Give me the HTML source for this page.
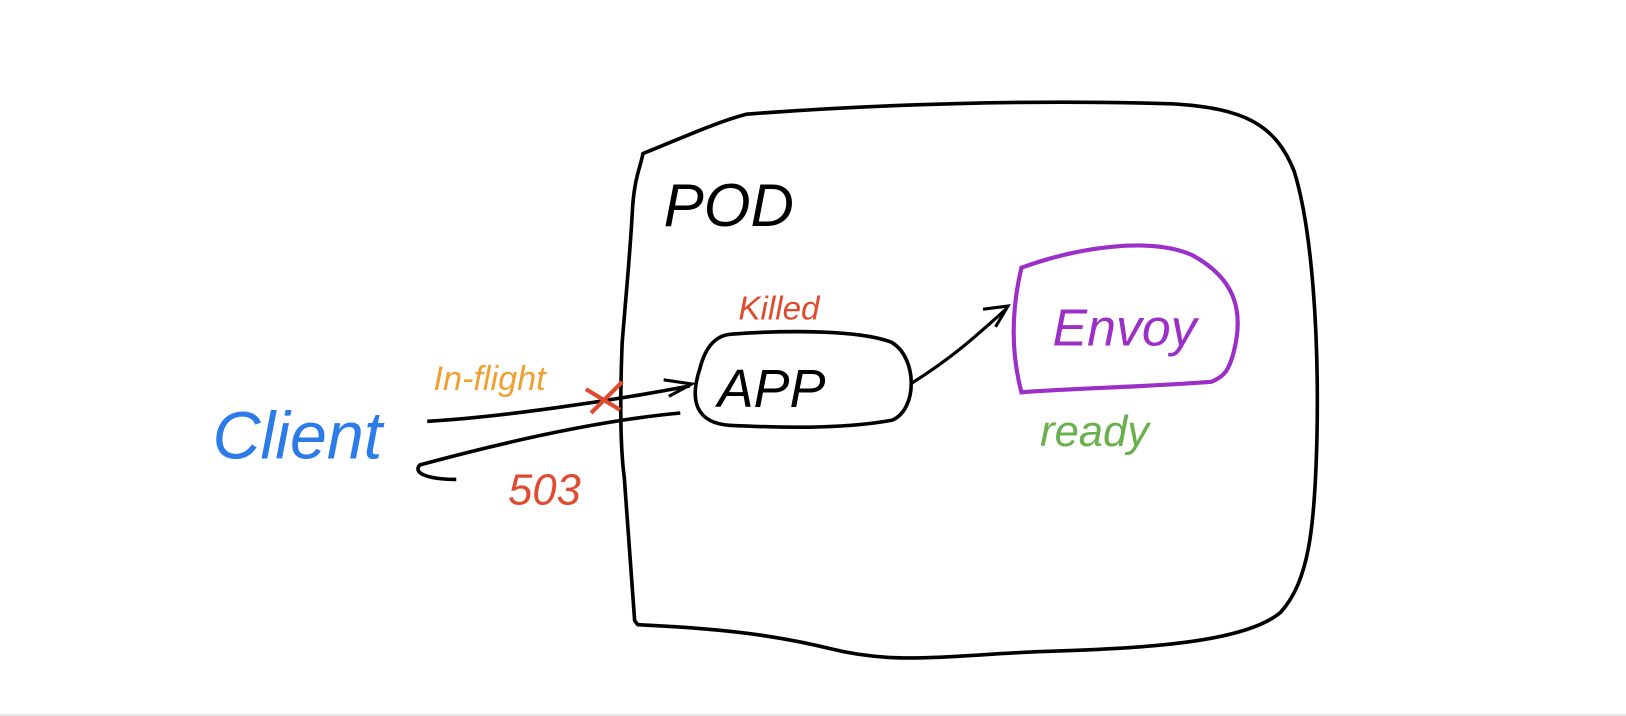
<!DOCTYPE html>
<html><head><meta charset="utf-8"><style>
html,body{margin:0;padding:0;background:#fff;width:1626px;height:716px;overflow:hidden}
svg{display:block}
text{font-family:"Liberation Sans",sans-serif;font-style:italic}
</style></head><body>
<svg width="1626" height="716" viewBox="0 0 1568 690" preserveAspectRatio="none" xmlns="http://www.w3.org/2000/svg">
<rect x="0" y="688" width="1568" height="2" fill="#e6e6e6"/>
<!-- POD box -->
<path d="M620 148 C660 132 690 118 720 110 C850 100 1000 96 1130 100 C1200 104 1230 120 1248 165 C1265 220 1272 320 1270 420 C1268 510 1262 560 1235 590 C1200 620 1100 625 1000 628 C900 633 860 640 800 625 C740 610 680 605 615 602 L612 598 C608 540 605 500 602 460 C598 430 598 380 600 330 C604 280 608 240 610 200 C612 170 618 160 620 148 Z" fill="none" stroke="#000" stroke-width="3.5" stroke-linejoin="round"/>
<text x="640" y="218" font-size="58" fill="#000">POD</text>
<!-- APP -->
<path d="M705 322 C760 318 830 318 860 330 C885 345 885 395 860 405 C810 414 750 412 705 410 C670 408 665 385 675 355 C680 335 690 323 705 322 Z" fill="none" stroke="#000" stroke-width="3.5"/>
<text x="692" y="392" font-size="52" fill="#000">APP</text>
<text x="712" y="308" font-size="32" fill="#e04a2f">Killed</text>
<!-- Envoy -->
<path d="M985 258 C1040 238 1110 228 1150 246 C1190 268 1200 298 1190 338 C1185 358 1180 363 1168 368 C1100 373 1040 374 985 378 C975 340 975 300 985 258 Z" fill="none" stroke="#9b2fc8" stroke-width="4"/>
<text x="1015" y="333" font-size="50" fill="#9b2fc8">Envoy</text>
<text x="1003" y="430" font-size="42" fill="#6ab04c">ready</text>
<!-- arrow APP->Envoy -->
<path d="M878 370 C918 345 940 325 970 298" fill="none" stroke="#000" stroke-width="3"/>
<path d="M948 298 L972 295 L960 315" fill="none" stroke="#000" stroke-width="3"/>
<!-- client -->
<text x="205" y="442" font-size="64" fill="#2b7be8">Client</text>
<!-- in-flight arrow -->
<path d="M412 406 C480 402 580 388 665 372" fill="none" stroke="#000" stroke-width="3.5"/>
<path d="M640 366 L667 370 L645 382" fill="none" stroke="#000" stroke-width="3"/>
<text x="418" y="376" font-size="33" fill="#f0a030">In-flight</text>
<path d="M565 375 L598 395 M600 368 L570 398" stroke="#e04a2f" stroke-width="4" fill="none"/>
<!-- 503 arrow -->
<path d="M656 398 C580 405 490 425 405 448 C398 455 410 462 440 462" fill="none" stroke="#000" stroke-width="3.5"/>
<text x="490" y="486" font-size="42" fill="#e04a2f">503</text>
</svg>
</body></html>
